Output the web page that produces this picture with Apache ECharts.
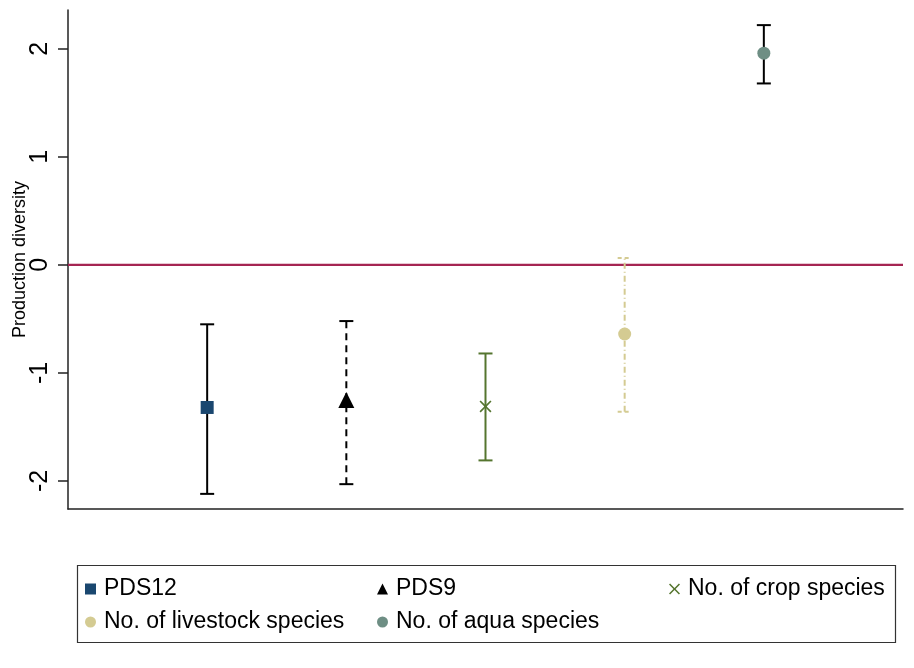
<!DOCTYPE html>
<html>
<head>
<meta charset="utf-8">
<script src="https://cdn.jsdelivr.net/npm/echarts@6/dist/echarts.min.js"></script>
<style>
  html, body { margin: 0; padding: 0; background: #fff; }
  #chart { width: 914px; height: 668px; }
</style>
</head>
<body>
<div id="chart"></div>
<script>
// coefficient plot: point estimate with confidence interval
const names = ['PDS12', 'PDS9', 'No. of crop species', 'No. of livestock species', 'No. of aqua species'];
const positions = [1, 2, 3, 4, 5];
const estimates = [-1.32, -1.25, -1.31, -0.64, 1.96];
const lower = [-2.12, -2.03, -1.81, -1.36, 1.68];
const upper = [-0.55, -0.52, -0.82, 0.065, 2.22];
const yTicks = [-2, -1, 0, 1, 2];

const markerColors = ['#1a476f', '#000000', '#55752f', '#d4cb92', '#6e8e84'];
const barColors = ['#000000', '#000000', '#55752f', '#d4cb92', '#000000'];
const barDash = [null, [7, 5], null, [6, 3, 1, 3], null];
const capDash = [null, null, null, [4, 3], null];
const symbols = ['rect', 'triangle',
  'path://M1,0 L5,4 L9,0 L10,1 L6,5 L10,9 L9,10 L5,6 L1,10 L0,9 L4,5 L0,1 Z',
  'circle', 'circle'];
const symbolSizes = [13, 16, 12, 13, 13];

const chart = echarts.init(document.getElementById('chart'));

function errorBar(color, dash, cdash) {
  return function (params, api) {
    const x = api.value(0);
    const lo = api.coord([x, api.value(1)]);
    const hi = api.coord([x, api.value(2)]);
    const half = 7;
    const style = { stroke: color, lineWidth: 2, lineDash: dash || null };
    const capStyle = { stroke: color, lineWidth: 2, lineDash: cdash || null };
    return {
      type: 'group',
      children: [
        { type: 'line', shape: { x1: lo[0], y1: lo[1], x2: hi[0], y2: hi[1] }, style: style },
        { type: 'line', shape: { x1: lo[0] - half, y1: lo[1], x2: lo[0] + half, y2: lo[1] }, style: capStyle },
        { type: 'line', shape: { x1: hi[0] - half, y1: hi[1], x2: hi[0] + half, y2: hi[1] }, style: capStyle }
      ]
    };
  };
}

const series = [];
names.forEach((name, i) => {
  series.push({
    name: name + ' CI',
    type: 'custom',
    z: 2,
    silent: true,
    renderItem: errorBar(barColors[i], barDash[i], capDash[i]),
    data: [[positions[i], lower[i], upper[i]]]
  });
});
names.forEach((name, i) => {
  series.push({
    name: name,
    type: 'scatter',
    z: 3,
    symbol: symbols[i],
    symbolSize: symbolSizes[i],
    itemStyle: { color: markerColors[i], opacity: 1 },
    data: [[positions[i], estimates[i]]]
  });
});
// zero reference line
series.push({
  name: 'zero',
  type: 'line',
  z: 1,
  silent: true,
  symbol: 'none',
  lineStyle: { color: '#a52552', width: 2.2 },
  data: [[0, 0], [6, 0]]
});

const legendText = { fontFamily: 'Liberation Sans', fontSize: 23, color: '#000', lineHeight: 26, padding: [0, 0, 0, 3] };
const legendBase = {
  orient: 'vertical',
  top: 576,
  padding: 0,
  itemGap: 7,
  itemWidth: 11,
  itemHeight: 11,
  textStyle: legendText,
  selectedMode: false
};

const option = {
  animation: false,
  backgroundColor: '#fff',
  grid: { left: 68, right: 11, top: 10, bottom: 159, outerBoundsMode: 'none' },
  xAxis: {
    type: 'value',
    min: 0,
    max: 6,
    axisLine: { show: true, onZero: false, lineStyle: { color: '#222', width: 1.5 } },
    axisTick: { show: false },
    axisLabel: { show: false },
    splitLine: { show: false }
  },
  yAxis: {
    type: 'value',
    min: -2.26,
    max: 2.36,
    name: 'Production diversity',
    nameLocation: 'middle',
    nameGap: 39,
    nameMoveOverlap: false,
    nameTextStyle: { fontFamily: 'Liberation Sans', fontSize: 18, color: '#000' },
    axisLine: { show: true, lineStyle: { color: '#222', width: 1.5 } },
    axisTick: { show: true, length: 10, customValues: yTicks, lineStyle: { color: '#222', width: 1.5 } },
    axisLabel: {
      rotate: 90,
      margin: 15,
      customValues: yTicks,
      fontFamily: 'Liberation Sans',
      fontSize: 25,
      color: '#000'
    },
    splitLine: { show: false }
  },
  legend: [
    Object.assign({ left: 85, data: [names[0], names[3]] }, legendBase),
    Object.assign({ left: 377, data: [names[1], names[4]] }, legendBase),
    Object.assign({ left: 669, data: [names[2]] }, legendBase)
  ],
  graphic: [
    {
      type: 'rect',
      left: 75,
      top: 563,
      shape: { width: 818, height: 77 },
      style: { fill: 'none', stroke: '#333', lineWidth: 1.2 }
    }
  ],
  series: series
};

chart.setOption(option);
</script>
</body>
</html>
